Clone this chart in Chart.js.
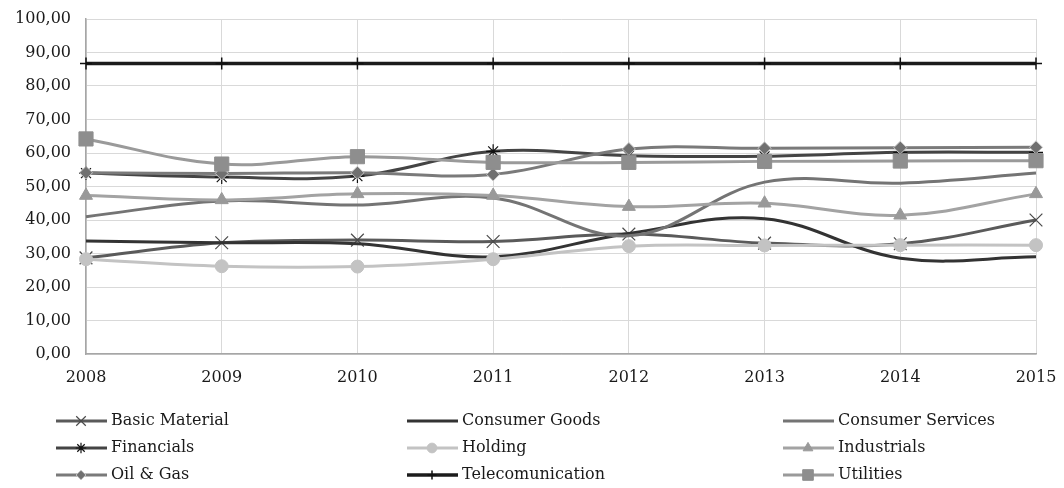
<!DOCTYPE html>
<html>
<head>
<meta charset="utf-8">
<script src="https://cdn.jsdelivr.net/npm/chart.js@4/dist/chart.umd.min.js"></script>
<style>
  html, body { margin: 0; padding: 0; background: #ffffff; }
  #wrap { width: 1064px; height: 488px; position: relative; }
</style>
</head>
<body>
<div id="wrap"><canvas id="c" width="1064" height="488"></canvas></div>
<script>
// Sector indices, 2008-2015
const years = ['2008', '2009', '2010', '2011', '2012', '2013', '2014', '2015'];
const seriesNames = ['Basic Material', 'Consumer Goods', 'Consumer Services', 'Financials', 'Holding', 'Industrials', 'Oil & Gas', 'Telecomunication', 'Utilities'];

const basicMaterial    = [28.7, 33.2, 34.0, 33.6, 35.8, 33.1, 32.9, 40.0];
const consumerGoods    = [33.7, 33.2, 32.9, 29.0, 36.0, 40.4, 28.6, 29.0];
const consumerServices = [41.0, 45.7, 44.5, 46.6, 35.3, 51.3, 51.0, 54.0];
const financials       = [54.0, 52.8, 53.1, 60.5, 59.2, 59.0, 60.2, 60.2];
const holding          = [28.3, 26.2, 26.1, 28.3, 32.2, 32.4, 32.5, 32.5];
const industrials      = [47.3, 46.0, 47.8, 47.3, 44.0, 45.0, 41.4, 47.8];
const oilGas           = [54.1, 53.9, 54.1, 53.6, 61.2, 61.4, 61.6, 61.7];
const telecom          = [86.7, 86.7, 86.7, 86.7, 86.7, 86.7, 86.7, 86.7];
const utilities        = [64.2, 56.7, 58.9, 57.2, 57.2, 57.5, 57.6, 57.7];

const yTicks = [0, 10, 20, 30, 40, 50, 60, 70, 80, 90, 100];

const FONT = 'DejaVu Serif';
const TEXT = '#1a1a1a';

// line colour, marker style, marker colour, marker border, radius, line width
const styles = [
  { c: '#5a5a5a', p: 'crossRot', pf: '#5a5a5a', pb: '#4a4a4a', r: 9,  bw: 1.2, w: 3 },
  { c: '#333333', p: false,      pf: '#333333', pb: '#333333', r: 0,  bw: 0,   w: 3 },
  { c: '#747474', p: false,      pf: '#747474', pb: '#747474', r: 0,  bw: 0,   w: 3 },
  { c: '#444444', p: 'star',     pf: '#111111', pb: '#111111', r: 7,  bw: 1.2, w: 3 },
  { c: '#c3c3c3', p: 'circle',   pf: '#c3c3c3', pb: '#c3c3c3', r: 6.5,bw: 1,   w: 3 },
  { c: '#a3a3a3', p: 'triangle', pf: '#999999', pb: '#999999', r: 7.5,bw: 1,   w: 3 },
  { c: '#7a7a7a', p: 'rectRot',  pf: '#707070', pb: '#c8c8c8', r: 6.5,bw: 1,   w: 3 },
  { c: '#1c1c1c', p: 'cross',    pf: '#111111', pb: '#111111', r: 6,  bw: 1.5, w: 3.5 },
  { c: '#9a9a9a', p: 'rect',     pf: '#8e8e8e', pb: '#8e8e8e', r: 10, bw: 1,   w: 3 }
];

const values = [basicMaterial, consumerGoods, consumerServices, financials, holding, industrials, oilGas, telecom, utilities];

const datasets = values.map((v, i) => {
  const s = styles[i];
  return {
    label: seriesNames[i],
    data: v,
    borderColor: s.c,
    backgroundColor: s.c,
    borderWidth: s.w,
    tension: 0.38,
    pointStyle: s.p || 'circle',
    pointRadius: s.p ? s.r : 0,
    pointHoverRadius: s.p ? s.r : 0,
    pointBackgroundColor: s.pf,
    pointBorderColor: s.pb,
    pointBorderWidth: s.bw,
    order: values.length - i,
    clip: false
  };
});

// Legend drawn under the plot: three columns, line sample with marker
const legendPlugin = {
  id: 'sampleLegend',
  afterDraw(chart) {
    const ctx = chart.ctx;
    const colX = [56, 407, 783];
    const rowY = [421, 448, 475];
    ctx.save();
    chart.data.datasets.forEach((ds, i) => {
      const s = styles[i];
      const x0 = colX[i % 3];
      const y = rowY[Math.floor(i / 3)];
      ctx.beginPath();
      ctx.strokeStyle = s.c;
      ctx.lineWidth = s.w;
      ctx.moveTo(x0, y);
      ctx.lineTo(x0 + 51, y);
      ctx.stroke();
      if (s.p) {
        ctx.fillStyle = s.pf;
        ctx.strokeStyle = s.pb;
        ctx.lineWidth = s.bw;
        Chart.helpers.drawPoint(ctx, { pointStyle: s.p, radius: s.r * 0.75, rotation: 0, borderWidth: s.bw }, x0 + 25, y);
      }
      ctx.fillStyle = TEXT;
      ctx.font = '16px "' + FONT + '"';
      ctx.textBaseline = 'middle';
      ctx.textAlign = 'left';
      ctx.fillText(ds.label, x0 + 55, y);
    });
    ctx.restore();
  }
};

new Chart(document.getElementById('c'), {
  type: 'line',
  data: { labels: years, datasets },
  plugins: [legendPlugin],
  options: {
    responsive: false,
    animation: false,
    devicePixelRatio: 1,
    layout: { padding: { top: 19, right: 28, left: 0, bottom: 0 } },
    plugins: { legend: { display: false }, tooltip: { enabled: false } },
    scales: {
      x: {
        type: 'category',
        offset: false,
        grid: { color: '#d9d9d9', lineWidth: 1, drawTicks: false },
        border: { color: '#a6a6a6', width: 1.5 },
        ticks: { color: TEXT, font: { family: FONT, size: 16 }, padding: 14, maxRotation: 0, autoSkip: false },
        afterFit(scale) {
          scale.height = 134;
          scale.paddingLeft = 0;
          scale.paddingRight = 0;
        }
      },
      y: {
        min: 0,
        max: 100,
        afterBuildTicks(scale) { scale.ticks = yTicks.map(v => ({ value: v })); },
        grid: { color: '#d9d9d9', lineWidth: 1, drawTicks: false },
        border: { color: '#a6a6a6', width: 1.5 },
        ticks: {
          color: TEXT,
          font: { family: FONT, size: 16 },
          padding: 15,
          callback: v => v.toFixed(2).replace('.', ',')
        },
        afterFit(scale) {
          scale.width = 86;
          scale.paddingTop = 0;
          scale.paddingBottom = 0;
        }
      }
    }
  }
});
</script>
</body>
</html>
